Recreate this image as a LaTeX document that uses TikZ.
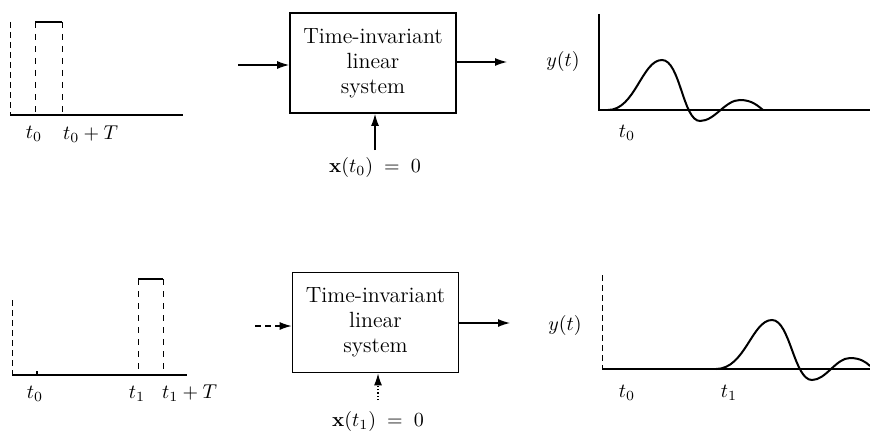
\documentclass[tikz,border=0pt]{standalone}
\usepackage{amsmath,amssymb}
\usepackage{tikz}
\usetikzlibrary{arrows.meta,positioning}

\begin{document}
\begin{tikzpicture}[
    x=0.5pt, y=-0.5pt,
    >={Latex[length=6pt,width=4pt]},
    sysbox/.style={draw, line width=0.9pt, minimum width=83pt, minimum height=50pt,
                   align=center, font=\fontsize{11}{12.5}\selectfont},
    axis/.style={line width=0.6pt},
    faint/.style={line width=0.4pt, densely dashed},
    edge/.style={line width=0.5pt, dashed},
    pulse/.style={line width=1.1pt},
    resp/.style={line width=1pt},
    sig/.style={->, line width=0.6pt},
    lab/.style={font=\normalsize}
  ]
  \useasboundingbox (0,0) rectangle (870,433);

  %% Top row: input pulse at t_0
  \draw[faint] (10,22) -- (10,115);
  \draw[axis] (10,115) -- (183,115);
  \draw[pulse] (35,22) -- (62,22);
  \draw[edge] (35,22) -- (35,115);
  \draw[edge] (62,22) -- (62,115);
  \node (ta)  [lab] at (34,134) {$t_0$};
  \node (taT) [lab, anchor=west] at (56,134) {$t_0+T$};

  %% Top system
  \node (sys1) [sysbox] at (373,63) {Time-invariant\\linear\\system};
  \coordinate (in1)  at (238,65);
  \coordinate (out1) at (507,62);
  \coordinate (st1)  at (375,150);
  \draw[sig] (in1) -- (in1 -| sys1.west);
  \draw[sig] (sys1.east |- out1) -- (out1);
  \draw[sig] (st1) -- (st1 |- sys1.south);
  \node (x1) [lab, below=0pt of st1] {$\mathbf{x}(t_0)\;=\;0$};

  %% Top response
  \draw[axis] (599,14) -- (599,110) -- (870,110);
  \node (y1) [lab] at (563,62) {$y(t)$};
  \node (tb) [lab] at (627,133) {$t_0$};
  \draw[resp] (608,110) .. controls (635,110) and (642,60) .. (662,60)
    .. controls (680,60) and (683,121) .. (700,121)
    .. controls (715,121) and (725,100) .. (740,100)
    .. controls (752,100) and (758,106) .. (763,110);

  %% Bottom row: input pulse at t_1
  \draw[faint] (12,300) -- (12,375);
  \draw[axis] (12,375) -- (187,375);
  \draw[axis] (37,371) -- (37,375);
  \draw[pulse] (138,279) -- (163,279);
  \draw[edge] (138,279) -- (138,375);
  \draw[edge] (163,279) -- (163,375);
  \node (tc)  [lab] at (35,394) {$t_0$};
  \node (td)  [lab] at (137,394) {$t_1$};
  \node (tdT) [lab, anchor=west] at (155,393) {$t_1+T$};

  %% Bottom system
  \node (sys2) [sysbox] at (375.5,322.5) {Time-invariant\\linear\\system};
  \coordinate (in2)  at (255,326);
  \coordinate (out2) at (510,323);
  \coordinate (st2)  at (378,400);
  \draw[sig, densely dashed] (in2) -- (in2 -| sys2.west);
  \draw[sig] (sys2.east |- out2) -- (out2);
  \draw[sig, densely dotted] (st2) -- (st2 |- sys2.south);
  \node (x2) [lab, below=2pt of st2] {$\mathbf{x}(t_1)\;=\;0$};

  %% Bottom response
  \draw[faint] (602,275) -- (602,369);
  \draw[axis] (602,369) -- (870,369);
  \node (y2) [lab] at (565,325) {$y(t)$};
  \node (te) [lab] at (627,393) {$t_0$};
  \node (tf) [lab] at (729,393) {$t_1$};
  \draw[resp] (716,369) .. controls (745,369) and (752,320) .. (772,320)
    .. controls (790,320) and (794,380) .. (812,380)
    .. controls (826,380) and (836,358) .. (850,358)
    .. controls (860,358) and (866,362) .. (870,366);

\end{tikzpicture}
\end{document}
